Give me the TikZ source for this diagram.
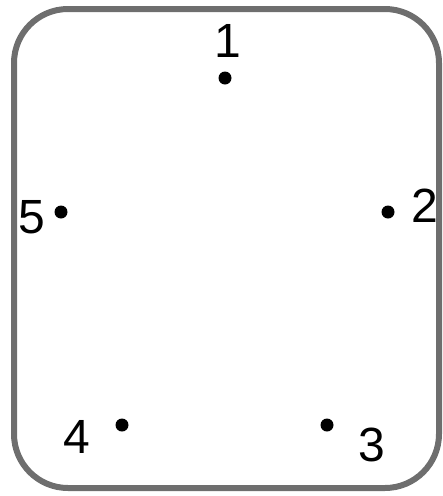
\documentclass[tikz,border=0pt]{standalone}
\usepackage{fontspec}
\setmainfont{Liberation Sans}
\usepackage{tikz}
\usetikzlibrary{positioning}
\definecolor{frame}{HTML}{6E6E6E}
\definecolor{ink}{HTML}{000000}

\begin{document}
\begin{tikzpicture}[x=1pt,y=-1pt,
  spot/.style={circle,fill=ink,inner sep=0pt,minimum size=13pt},
  num/.style={inner sep=0pt,text=ink,font=\fontsize{48}{58}\selectfont}]
  \useasboundingbox (0,0) rectangle (443,496);
  \draw[frame,line width=6pt,rounded corners=54pt] (14,9) rectangle (439,488);
  \node[spot] (d1) at (225,78) {};
  \node[spot] (d2) at (388,212) {};
  \node[spot] (d3) at (327,425) {};
  \node[spot] (d4) at (122,425) {};
  \node[spot] (d5) at (61,212) {};
  \node[num] (l1) at (228,41) {1};
  \node[num] (l2) at (425,206) {2};
  \node[num] (l3) at (372,445) {3};
  \node[num] (l4) at (77,437) {4};
  \node[num] (l5) at (32,217) {5};
\end{tikzpicture}
\end{document}
